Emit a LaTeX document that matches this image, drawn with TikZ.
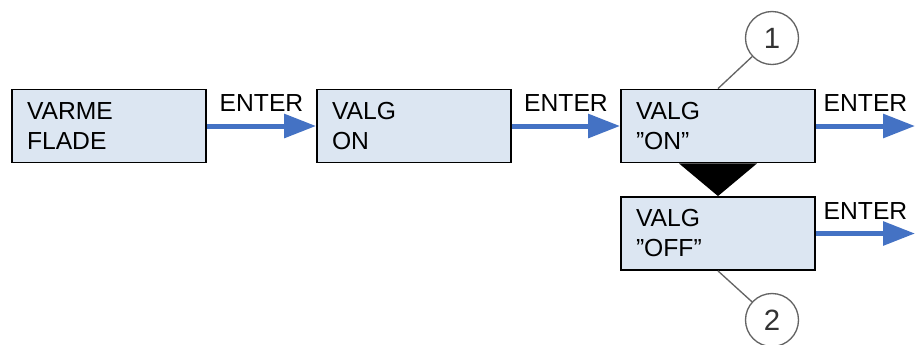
\documentclass[tikz,border=0pt]{standalone}
\usepackage{fontspec}
\setmainfont{Liberation Sans}
\usetikzlibrary{arrows.meta,calc}
\definecolor{boxfill}{RGB}{220,230,242}
\definecolor{arrowblue}{RGB}{68,114,196}
\definecolor{circlegray}{RGB}{100,100,100}
\begin{document}
\begin{tikzpicture}
[x=0.75pt,y=-0.75pt,
  boxdecorate/.style={shape=rectangle,draw,line width=1.4pt,fill=boxfill,
    text width=123pt,inner xsep=11.25pt,minimum height=54.75pt,align=left,
    font=\fontsize{18.5}{22.5}\selectfont},
  arrowdecorate/.style={-{Triangle[length=24pt,width=17.5pt]},line width=3.75pt,
    draw=arrowblue},
  labeldecorate/.style={above=9pt,inner sep=0pt,text=black,
    font=\fontsize{18.5}{22.5}\selectfont},
  circledecorate/.style={shape=circle,draw=circlegray,line width=1pt,
    minimum size=39.75pt,inner sep=0pt,text=black!80,
    font=\fontsize{22}{22}\selectfont},
  linedecorate/.style={-,draw=circlegray,line width=1pt}]
\useasboundingbox (0,0) rectangle (915,344);
%% menu boxes
\foreach \nodename/\x/\y/\txt in {varme/109/126/{VARME\\FLADE},
  valg/414/126/{VALG\\ON}, on/718/126/{VALG\\''ON''},
  off/718/233.5/{VALG\\''OFF''}} {
  \node (\nodename) at (\x,\y) [boxdecorate] {\txt};
}
%% free ends of the last arrows
\coordinate (onend) at (915,126);
\coordinate (offend) at (915,233.5);
%% enter arrows
\path
\foreach \startnode/\endnode in {varme/valg, valg/on} {
  (\startnode) edge[arrowdecorate] node[labeldecorate,midway] {ENTER} (\endnode)
};
\draw[arrowdecorate] (on) -- node[labeldecorate,midway] {ENTER} (onend);
\draw[arrowdecorate] (off) -- node[labeldecorate,midway] {ENTER} (offend);
%% black wedge between on and off
\fill ($(on.south)+(-39,0)$) -- ($(on.south)+(39,0)$) -- (off.north) -- cycle;
%% numbered callouts
\node (one) at (772,38) [circledecorate] {1};
\node (two) at (772,320) [circledecorate] {2};
\draw[linedecorate] (on.north) -- (one);
\draw[linedecorate] (off.south) -- (two);
\end{tikzpicture}
\end{document}
